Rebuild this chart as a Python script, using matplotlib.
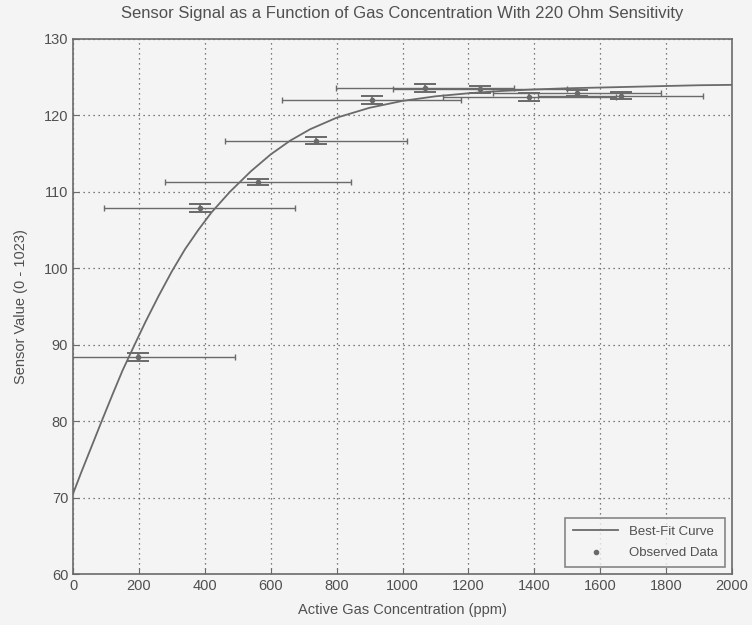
import numpy as np
import matplotlib.pyplot as plt

# best-fit curve
fit_x = [0, 25, 50, 87, 120, 150, 188, 220, 260, 300, 340, 380, 420, 476, 540, 600,
         659, 720, 800, 900, 1000, 1100, 1200, 1300, 1400, 1500, 1600, 1700, 1800,
         1900, 2000]
fit_y = [70.5, 73.3, 76.0, 80.0, 83.5, 86.6, 90.1, 93.0, 96.4, 99.6, 102.5, 105.0,
         107.3, 110.0, 112.7, 114.9, 116.7, 118.2, 119.7, 121.0, 121.9, 122.5, 122.9,
         123.2, 123.4, 123.55, 123.65, 123.75, 123.85, 123.95, 124.0]

# observed data with error bars
obs_x = [197, 385, 562, 737, 906, 1068, 1235, 1385, 1530, 1662]
obs_y = [88.4, 107.9, 111.3, 116.7, 122.0, 123.6, 123.4, 122.4, 122.9, 122.6]
obs_xerr = [295, 290, 283, 277, 273, 270, 263, 262, 255, 250]
obs_yerr = [0.5, 0.5, 0.4, 0.5, 0.5, 0.5, 0.5, 0.5, 0.4, 0.4]

plt.rcParams['font.family'] = ['Liberation Sans', 'DejaVu Sans']
gray = '#6a6a6a'
txt = '#505050'

fig = plt.figure(figsize=(7.52, 6.25), dpi=100, facecolor='#f4f4f4')
ax = fig.add_axes([0.0971, 0.0816, 0.8763, 0.856])
ax.set_facecolor('#f4f4f4')

ax.plot(fit_x, fit_y, color=gray, lw=1.3, label='Best-Fit Curve')
ax.errorbar(obs_x, obs_y, xerr=obs_xerr, fmt='none', ecolor=gray, elinewidth=1.0,
            capsize=2.5, capthick=1.0)
ax.errorbar(obs_x, obs_y, yerr=obs_yerr, fmt='none', ecolor=gray, elinewidth=1.2,
            capsize=8, capthick=1.4)
ax.plot(obs_x, obs_y, '.', color=gray, ms=6, label='Observed Data')

ax.set_xlim(0, 2000)
ax.set_ylim(60, 130)
ax.set_xticks(np.arange(0, 2001, 200))
ax.set_yticks(np.arange(60, 131, 10))
ax.grid(True, linestyle=(0, (1, 3)), color='#555555', lw=0.9)
ax.tick_params(direction='in', length=4, colors=gray, labelcolor=txt, labelsize=10.5)
for s in ax.spines.values():
    s.set_color(gray)
    s.set_linewidth(1.2)

ax.set_title('Sensor Signal as a Function of Gas Concentration With 220 Ohm Sensitivity',
             fontsize=12, color=txt, pad=15)
ax.set_xlabel('Active Gas Concentration (ppm)', fontsize=10.5, color=txt, labelpad=7)
ax.set_ylabel('Sensor Value (0 - 1023)', fontsize=10.5, color=txt, labelpad=11)

leg = ax.legend(loc='lower right', fontsize=9.5, fancybox=False, frameon=True,
                handlelength=3.4, borderaxespad=0.5, labelcolor=txt,
                borderpad=0.6, handletextpad=0.8, labelspacing=0.7)
leg.get_frame().set_edgecolor(gray)
leg.get_frame().set_facecolor('#f4f4f4')
leg.get_frame().set_linewidth(1.2)

fig.savefig('out.png', dpi=100, facecolor=fig.get_facecolor())
